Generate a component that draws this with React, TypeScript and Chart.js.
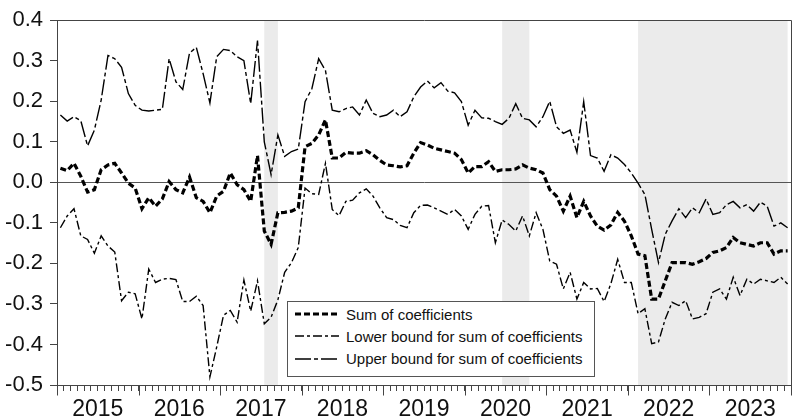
import { useEffect, useRef } from "react";
import { Chart, registerables } from "chart.js";
Chart.register(...registerables);

// ── Data (monthly, 2015M01 – 2023M12) ────────────────────────────────────────

const YEARS = [2015, 2016, 2017, 2018, 2019, 2020, 2021, 2022, 2023];
const MONTHS = YEARS.flatMap((y) =>
  ["01", "02", "03", "04", "05", "06", "07", "08", "09", "10", "11", "12"].map((m) => `${y}M${m}`)
);

const SUM = [
  0.035, 0.029, 0.047, 0.015, -0.024, -0.018, 0.031, 0.043, 0.047, 0.023, -0.002, -0.014,
  -0.065, -0.038, -0.059, -0.041, 0.002, -0.018, -0.026, 0.013, -0.038, -0.047, -0.075, -0.034,
  -0.022, 0.023, -0.006, -0.018, -0.047, 0.066, -0.120, -0.153, -0.075, -0.074, -0.071, -0.063,
  0.088, 0.096, 0.117, 0.154, 0.060, 0.060, 0.074, 0.072, 0.072, 0.078, 0.068, 0.054,
  0.043, 0.041, 0.038, 0.041, 0.072, 0.098, 0.092, 0.084, 0.080, 0.076, 0.072, 0.056,
  0.023, 0.039, 0.039, 0.051, 0.027, 0.031, 0.031, 0.033, 0.043, 0.035, 0.031, 0.023,
  -0.018, -0.034, -0.071, -0.034, -0.087, -0.047, -0.083, -0.108, -0.118, -0.105, -0.074, -0.096,
  -0.132, -0.177, -0.181, -0.288, -0.288, -0.243, -0.198, -0.198, -0.198, -0.202, -0.196, -0.188,
  -0.173, -0.169, -0.161, -0.136, -0.149, -0.153, -0.157, -0.149, -0.149, -0.177, -0.169, -0.169,
];

const LOWER = [
  -0.112, -0.083, -0.065, -0.132, -0.141, -0.175, -0.132, -0.157, -0.172, -0.292, -0.271, -0.275,
  -0.337, -0.214, -0.247, -0.239, -0.237, -0.240, -0.294, -0.294, -0.281, -0.304, -0.480, -0.406,
  -0.328, -0.316, -0.345, -0.241, -0.318, -0.243, -0.349, -0.333, -0.290, -0.222, -0.198, -0.161,
  -0.014, -0.028, -0.030, 0.047, -0.067, -0.082, -0.047, -0.044, -0.026, -0.016, -0.034, -0.063,
  -0.087, -0.092, -0.106, -0.112, -0.075, -0.057, -0.056, -0.063, -0.071, -0.079, -0.067, -0.083,
  -0.116, -0.079, -0.059, -0.057, -0.149, -0.093, -0.104, -0.120, -0.083, -0.132, -0.075, -0.116,
  -0.194, -0.202, -0.263, -0.222, -0.288, -0.247, -0.263, -0.262, -0.294, -0.250, -0.190, -0.247,
  -0.247, -0.324, -0.312, -0.398, -0.394, -0.337, -0.296, -0.304, -0.292, -0.337, -0.333, -0.324,
  -0.271, -0.263, -0.288, -0.234, -0.279, -0.239, -0.251, -0.239, -0.243, -0.247, -0.234, -0.251,
];

const UPPER = [
  0.166, 0.151, 0.162, 0.152, 0.090, 0.129, 0.203, 0.313, 0.305, 0.284, 0.219, 0.190,
  0.178, 0.176, 0.178, 0.180, 0.305, 0.248, 0.229, 0.319, 0.333, 0.268, 0.196, 0.310,
  0.328, 0.325, 0.310, 0.300, 0.194, 0.350, 0.100, 0.019, 0.117, 0.064, 0.076, 0.082,
  0.199, 0.231, 0.305, 0.276, 0.178, 0.174, 0.182, 0.186, 0.166, 0.203, 0.170, 0.162,
  0.166, 0.178, 0.162, 0.174, 0.211, 0.235, 0.250, 0.233, 0.246, 0.225, 0.221, 0.199,
  0.141, 0.178, 0.159, 0.158, 0.150, 0.143, 0.158, 0.194, 0.158, 0.154, 0.137, 0.162,
  0.200, 0.137, 0.121, 0.129, 0.074, 0.199, 0.066, 0.060, 0.027, 0.068, 0.060, 0.044,
  0.023, -0.002, -0.030, -0.116, -0.198, -0.128, -0.095, -0.065, -0.087, -0.063, -0.075, -0.041,
  -0.079, -0.075, -0.055, -0.047, -0.063, -0.055, -0.071, -0.049, -0.059, -0.108, -0.100, -0.112,
];

// shaded periods, first and last month
const SHADED = [
  ["2017M07", "2017M09"],
  ["2020M06", "2020M10"],
  ["2022M02", "2023M12"],
];

const Y_TICKS = [-0.5, -0.4, -0.3, -0.2, -0.1, 0, 0.1, 0.2, 0.3, 0.4];

// ── Styles ───────────────────────────────────────────────────────────────────

const FONT = "'Liberation Sans', Arial, sans-serif";
const AXIS = "#444";
const SHADE = "#ebebeb";

const SERIES = [
  { label: "Sum of coefficients", data: SUM, width: 3.2, dash: [6, 3] },
  { label: "Lower bound for sum of coefficients", data: LOWER, width: 1.4, dash: [9, 3, 3, 3] },
  { label: "Upper bound for sum of coefficients", data: UPPER, width: 1.4, dash: [16, 3, 4, 3] },
];

// ── Plugins ──────────────────────────────────────────────────────────────────

const shadePlugin = {
  id: "shade",
  beforeDraw(chart: Chart) {
    const { ctx, chartArea, scales } = chart;
    const xs = scales.x;
    ctx.save();
    ctx.fillStyle = SHADE;
    for (const [a, b] of SHADED) {
      const x0 = xs.getPixelForValue(MONTHS.indexOf(a));
      const x1 = xs.getPixelForValue(MONTHS.indexOf(b));
      ctx.fillRect(x0, chartArea.top, x1 - x0, chartArea.bottom - chartArea.top);
    }
    ctx.restore();
  },
};

const framePlugin = {
  id: "frame",
  afterDraw(chart: Chart) {
    const { ctx, chartArea, scales } = chart;
    const xs = scales.x;
    ctx.save();
    ctx.strokeStyle = AXIS;
    ctx.lineWidth = 1;
    const l = Math.round(chartArea.left) + 0.5;
    const t = Math.round(chartArea.top) + 0.5;
    const r = Math.round(chartArea.right) + 0.5;
    const b = Math.round(chartArea.bottom) + 0.5;
    ctx.beginPath();
    ctx.moveTo(l, t);
    ctx.lineTo(r, t);
    ctx.lineTo(r, b);
    // longer tick marks at year boundaries
    for (let k = 0; k <= MONTHS.length; k += 12) {
      const px = Math.round(xs.getPixelForValue(k - 0.5)) + 0.5;
      ctx.moveTo(px, b);
      ctx.lineTo(px, b + 10);
    }
    ctx.stroke();
    ctx.restore();
  },
};

// ── Chart ────────────────────────────────────────────────────────────────────

function CoefficientChart() {
  const ref = useRef<HTMLCanvasElement>(null);
  const chartRef = useRef<Chart | null>(null);

  useEffect(() => {
    if (!ref.current) return;
    chartRef.current?.destroy();

    chartRef.current = new Chart(ref.current, {
      type: "line",
      data: {
        datasets: SERIES.map((s) => ({
          label: s.label,
          data: s.data.map((v, i) => ({ x: i, y: v })),
          borderColor: "#000",
          borderWidth: s.width,
          borderDash: s.dash,
          pointRadius: 0,
          tension: 0,
          fill: false,
        })),
      },
      options: {
        animation: false,
        responsive: false,
        events: [],
        layout: { padding: { top: 18, right: 4.6, left: 0, bottom: 0 } },
        plugins: { legend: { display: false }, tooltip: { enabled: false } },
        scales: {
          x: {
            type: "linear",
            min: -0.5,
            max: MONTHS.length - 0.5,
            afterBuildTicks: (s: any) => {
              s.ticks = [...MONTHS, ""].map((_, k) => ({ value: k - 0.5 }));
            },
            afterFit: (s: any) => {
              s.height = 35;
            },
            ticks: {
              autoSkip: false,
              maxRotation: 0,
              minRotation: 0,
              padding: 5,
              color: "#111",
              font: { family: FONT, size: 23 },
              callback: (_v: any, k: number) =>
                k >= 6 && (k - 6) % 12 === 0 && (k - 6) / 12 < YEARS.length
                  ? String(YEARS[(k - 6) / 12])
                  : "",
            },
            grid: { drawOnChartArea: false, tickLength: 6, color: AXIS, tickColor: AXIS },
            border: { display: true, color: AXIS },
          },
          y: {
            min: -0.5,
            max: 0.4,
            afterBuildTicks: (s: any) => {
              s.ticks = Y_TICKS.map((value) => ({ value }));
            },
            afterFit: (s: any) => {
              s.width = 57;
            },
            ticks: {
              padding: 7,
              color: "#111",
              font: { family: FONT, size: 22 },
              callback: (v: any) => (Math.abs(Number(v)) < 1e-9 ? "0.0" : Number(v).toFixed(1)),
            },
            grid: {
              tickLength: 7,
              tickColor: AXIS,
              color: (c: any) => (Math.abs(c.tick?.value ?? 1) < 1e-9 ? "#555" : "rgba(0,0,0,0)"),
            },
            border: { display: true, color: AXIS },
          },
        },
      },
      plugins: [shadePlugin, framePlugin],
    });

    return () => chartRef.current?.destroy();
  }, []);

  return <canvas ref={ref} width={796} height={420} style={{ display: "block" }} />;
}

// ── Legend (inside plot area) ────────────────────────────────────────────────

function Legend() {
  return (
    <div
      style={{
        position: "absolute",
        left: 287,
        top: 301,
        width: 308,
        height: 76,
        boxSizing: "border-box",
        border: "1px solid #555",
        background: "#fff",
        paddingTop: 1,
        fontFamily: FONT,
        fontSize: 15,
        color: "#111",
      }}
    >
      {SERIES.map((s) => (
        <div key={s.label} style={{ display: "flex", alignItems: "center", height: 22.3 }}>
          <svg width={44} height={8} style={{ marginLeft: 7, marginRight: 7 }}>
            <line
              x1={0}
              y1={4}
              x2={44}
              y2={4}
              stroke="#000"
              strokeWidth={s.width}
              strokeDasharray={s.dash.join(" ")}
            />
          </svg>
          <span>{s.label}</span>
        </div>
      ))}
    </div>
  );
}

export default function App() {
  useEffect(() => {
    document.body.style.margin = "0";
  }, []);
  return (
    <div style={{ position: "relative", width: 796, height: 420, background: "#fff" }}>
      <CoefficientChart />
      <Legend />
    </div>
  );
}
